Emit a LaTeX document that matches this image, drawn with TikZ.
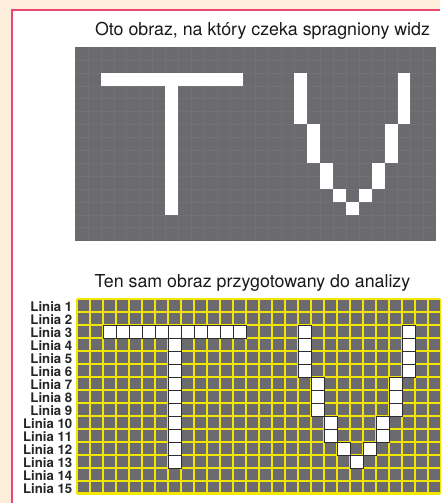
\documentclass[tikz,border=0pt]{standalone}
\usepackage{fontspec}
\setmainfont{TeX Gyre Heros}
\usepackage{tikz}
\definecolor{creambg}{RGB}{252,238,218}
\definecolor{framepink}{RGB}{232,72,115}
\definecolor{screengray}{RGB}{106,106,111}
\definecolor{faintgray}{RGB}{113,113,118}
\definecolor{gridyellow}{RGB}{242,230,0}
\definecolor{celledge}{RGB}{45,45,45}

\begin{document}
\begin{tikzpicture}[x=1pt, y=-1pt,
    title/.style={font=\fontsize{17.8}{20}\selectfont, anchor=base,
      inner sep=0pt, text=black!90},
    linia/.style={font=\bfseries\fontsize{13.2}{14}\selectfont,
      anchor=base east, inner sep=0pt, text=black!85},
    faint/.style={faintgray, line width=0.4pt},
    yline/.style={gridyellow, line width=1.2pt},
    cell/.style={fill=white, draw=celledge, line width=0.9pt}
  ]
  \newcommand{\tvcells}{3/3,4/3,5/3,6/3,7/3,8/3,9/3,10/3,11/3,12/3,13/3,
    8/4,8/5,8/6,8/7,8/8,8/9,8/10,8/11,8/12,8/13,
    18/3,18/4,18/5,18/6,19/7,19/8,19/9,20/10,20/11,21/12,22/13,
    23/12,24/10,24/11,25/7,25/8,25/9,26/3,26/4,26/5,26/6}
  \useasboundingbox (0,0) rectangle (440,503);
  \fill[creambg] (0,0) rectangle (440,503);
  \fill[white] (12,10) rectangle (440,503);
  \draw[framepink, line width=1.2pt] (12,503) -- (12,10) -- (440,10);

  % obraz widza
  \node[title] (head1) at (262.5,36) {Oto obraz, na który czeka spragniony widz};
  \fill[screengray] (75,47) rectangle (436,241);
  \foreach \i in {1,...,27}
    \draw[faint] ({75+\i*12.9},47) -- ({75+\i*12.9},241);
  \foreach \i in {1,...,14}
    \draw[faint] (75,{47+\i*12.9}) -- (436,{47+\i*12.9});
  \foreach \c/\r in \tvcells
    \fill[white] ({75+(\c-1)*12.9},{47+(\r-1)*12.9}) rectangle ++(12.9,12.9);

  % obraz do analizy
  \node[title] (head2) at (252.5,287) {Ten sam obraz przygotowany do analizy};
  \fill[screengray] (77,299) rectangle (440,494);
  \foreach \i in {0,...,28}
    \draw[yline] ({77+\i*13},299) -- ({77+\i*13},494);
  \foreach \i in {0,...,14}
    \draw[yline] (77,{299+\i*13}) -- (440,{299+\i*13});
  \draw[yline, line width=2.2pt] (77,493.5) -- (440,493.5);
  \foreach \c/\r in \tvcells
    \filldraw[cell] ({77+(\c-1)*13},{299+(\r-1)*13}) rectangle ++(13,13);
  \foreach \r in {1,...,15}
    \node[linia] (linia\r) at (72.5,{299+\r*13-1}) {Linia \r};
\end{tikzpicture}
\end{document}
